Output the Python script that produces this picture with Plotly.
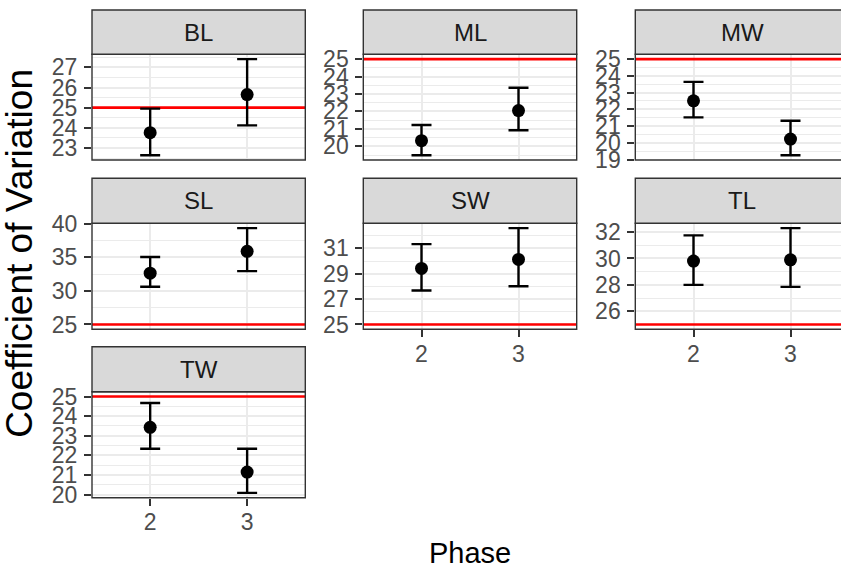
import plotly.graph_objects as go

# ---------------- data ----------------
facets = ["BL", "ML", "MW", "SL", "SW", "TL", "TW"]
phases = [2, 3]
phase_labels = ["2", "3"]
cv_mean = {
    "BL": [23.76, 25.65],
    "ML": [20.32, 22.05],
    "MW": [22.51, 20.22],
    "SL": [32.65, 35.90],
    "SW": [29.42, 30.13],
    "TL": [29.80, 29.90],
    "TW": [23.43, 21.15],
}
cv_low = {
    "BL": [22.64, 24.12],
    "ML": [19.49, 20.92],
    "MW": [21.52, 19.26],
    "SL": [30.62, 32.95],
    "SW": [27.68, 28.02],
    "TL": [28.00, 27.85],
    "TW": [22.34, 20.09],
}
cv_high = {
    "BL": [24.95, 27.41],
    "ML": [21.22, 23.36],
    "MW": [23.64, 21.32],
    "SL": [35.06, 39.36],
    "SW": [31.34, 32.60],
    "TL": [31.75, 32.30],
    "TW": [24.67, 22.34],
}
y_ticks = {
    "BL": [23, 24, 25, 26, 27],
    "ML": [20, 21, 22, 23, 24, 25],
    "MW": [19, 20, 21, 22, 23, 24, 25],
    "SL": [25, 30, 35, 40],
    "SW": [25, 27, 29, 31],
    "TL": [26, 28, 30, 32],
    "TW": [20, 21, 22, 23, 24, 25],
}
threshold = 25

# ---------------- layout geometry (pixels) ----------------
W, H = 841, 569
col_left = [92, 363.3, 635.3]
col_right = [305.3, 576.7, 848.7]
strip_top = [10, 178.3, 346.7]
panel_top = [54.3, 223.3, 391.7]
panel_bot = [160, 329.3, 497.7]
positions = {"BL": (0, 0), "ML": (0, 1), "MW": (0, 2),
             "SL": (1, 0), "SW": (1, 1), "TL": (1, 2), "TW": (2, 0)}
show_x = {"SW", "TL", "TW"}

FONT = "Liberation Sans, Arial, sans-serif"
fx = lambda p: p / W
fy = lambda p: 1 - p / H

fig = go.Figure()
layout = dict(
    template="none",
    width=W, height=H,
    margin=dict(l=0, r=0, t=0, b=0, pad=0, autoexpand=False),
    paper_bgcolor="white", plot_bgcolor="white", showlegend=False,
    font=dict(family=FONT),
)
shapes, annotations = [], []
x_lo, x_hi = 1.4, 3.6

for i, f in enumerate(facets):
    n = i + 1
    r, c = positions[f]
    xa, ya = f"xaxis{n}" if n > 1 else "xaxis", f"yaxis{n}" if n > 1 else "yaxis"
    xr, yr = f"x{n}" if n > 1 else "x", f"y{n}" if n > 1 else "y"

    # domain & range (last column is clipped by the page edge)
    x1px = min(col_right[c], W)
    frac = (x1px - col_left[c]) / (col_right[c] - col_left[c])
    xrange = [x_lo, x_lo + (x_hi - x_lo) * frac]

    lo_all = cv_low[f] + [threshold]
    hi_all = cv_high[f] + [threshold]
    ymin, ymax = min(lo_all), max(hi_all)
    pad = 0.05 * (ymax - ymin)
    yrange = [ymin - pad, ymax + pad]
    tv = y_ticks[f]
    step = tv[1] - tv[0]
    minor_vals = [tv[0] - step / 2] + [t + step / 2 for t in tv]

    layout[xa] = dict(
        domain=[fx(col_left[c]), fx(x1px)], range=xrange, anchor=yr,
        automargin=False,
        tickvals=phases, ticktext=phase_labels,
        showgrid=True, gridcolor="#EBEBEB", gridwidth=2, zeroline=False,
        ticks="outside" if f in show_x else "", ticklen=7, tickwidth=2,
        tickcolor="#333333", showticklabels=f in show_x,
        tickfont=dict(size=23, color="#4D4D4D", family=FONT),
        ticklabelstandoff=-3, showline=False,
    )
    layout[ya] = dict(
        domain=[fy(panel_bot[r]), fy(panel_top[r])], range=yrange, anchor=xr,
        automargin=False,
        tickvals=tv, ticktext=[str(t) for t in tv],
        showgrid=True, gridcolor="#EBEBEB", gridwidth=2, zeroline=False,
        ticks="outside", ticklen=7, tickwidth=2, tickcolor="#333333",
        tickfont=dict(size=23, color="#4D4D4D", family=FONT),
        ticklabelstandoff=2, showline=False,
        minor=dict(tickvals=minor_vals, showgrid=True, gridcolor="#EBEBEB",
                   gridwidth=1, ticks=""),
    )

    # threshold line, drawn across the panel's x range
    fig.add_trace(go.Scatter(
        x=xrange, y=[threshold, threshold], xaxis=xr, yaxis=yr, mode="lines",
        line=dict(color="#FF0000", width=2.6), hoverinfo="skip",
    ))

    # panel border
    shapes.append(dict(type="rect", xref="paper", yref="paper",
                       x0=fx(col_left[c]), x1=fx(col_right[c]),
                       y0=fy(panel_bot[r]), y1=fy(panel_top[r]),
                       line=dict(color="#333333", width=1.4),
                       fillcolor="rgba(0,0,0,0)", layer="above"))
    # strip
    shapes.append(dict(type="rect", xref="paper", yref="paper",
                       x0=fx(col_left[c]), x1=fx(col_right[c]),
                       y0=fy(panel_top[r]), y1=fy(strip_top[r]),
                       line=dict(color="#333333", width=1.4),
                       fillcolor="#D9D9D9", layer="above"))
    annotations.append(dict(
        text=f, xref="paper", yref="paper", showarrow=False,
        x=fx((col_left[c] + col_right[c]) / 2),
        y=fy((strip_top[r] + panel_top[r]) / 2),
        xanchor="center", yanchor="middle",
        font=dict(size=24, color="#1A1A1A", family=FONT),
    ))

    means = cv_mean[f]
    fig.add_trace(go.Scatter(
        x=phases, y=means, xaxis=xr, yaxis=yr, mode="markers",
        marker=dict(color="black", size=13),
        error_y=dict(type="data", symmetric=False,
                     array=[h - m for h, m in zip(cv_high[f], means)],
                     arrayminus=[m - l for m, l in zip(means, cv_low[f])],
                     color="black", thickness=2.4, width=10),
        cliponaxis=False, hoverinfo="skip",
    ))

annotations.append(dict(
    text="Phase", xref="paper", yref="paper", showarrow=False,
    x=fx((col_left[0] + col_right[2]) / 2), y=fy(553),
    xanchor="center", yanchor="middle",
    font=dict(size=29, color="black", family=FONT)))
annotations.append(dict(
    text="Coefficient of Variation", xref="paper", yref="paper",
    showarrow=False, textangle=-90,
    x=fx(20), y=fy((strip_top[0] + panel_bot[2]) / 2),
    xanchor="center", yanchor="middle",
    font=dict(size=37, color="black", family=FONT)))

layout["shapes"] = shapes
layout["annotations"] = annotations
fig.update_layout(**layout)
fig.write_html("out.html")
